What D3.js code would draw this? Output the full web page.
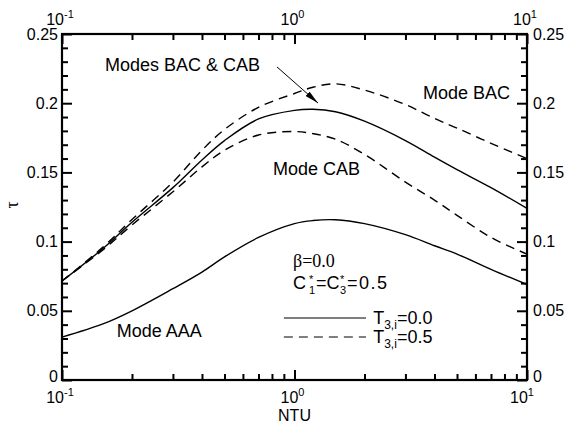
<!DOCTYPE html>
<html>
<head>
<meta charset="utf-8">
<script src="https://cdn.jsdelivr.net/npm/d3@7"></script>
<style>
  body { margin: 0; background: #fff; }
  text { font-family: "Liberation Sans", Arial, Helvetica, sans-serif; fill: #000; }
</style>
</head>
<body>
<svg id="chart" width="568" height="426"></svg>
<script>
// NTU sample points and tau values
var ntu       = [0.1, 0.15, 0.2, 0.3, 0.4, 0.5, 0.7, 1, 1.2, 1.5, 2, 3, 4, 5, 7, 10];
var bacCabT00 = [0.0715, 0.095, 0.114, 0.139, 0.159, 0.173, 0.1886, 0.1948, 0.1956, 0.1938, 0.187, 0.173, 0.161, 0.152, 0.139, 0.124];
var bacT05    = [0.0715, 0.096, 0.116, 0.143, 0.166, 0.181, 0.197, 0.207, 0.2115, 0.214, 0.2095, 0.199, 0.189, 0.182, 0.171, 0.160];
var cabT05    = [0.0715, 0.094, 0.112, 0.136, 0.154, 0.166, 0.177, 0.1795, 0.178, 0.174, 0.163, 0.143, 0.130, 0.119, 0.103, 0.091];
var aaaT00    = [0.031, 0.0405, 0.050, 0.066, 0.078, 0.089, 0.103, 0.113, 0.1152, 0.1158, 0.113, 0.105, 0.097, 0.091, 0.080, 0.069];

var xMajor = [0.1, 1, 10];
var xMinor = [0.2, 0.3, 0.4, 0.5, 0.6, 0.7, 0.8, 0.9, 2, 3, 4, 5, 6, 7, 8, 9];
var xExp   = ["-1", "0", "1"];
var yMajor = [0, 0.05, 0.1, 0.15, 0.2, 0.25];
var yMinor = d3.range(1, 25).map(function(i) { return i / 100; }).filter(function(v) { return Math.round(v * 100) % 5 !== 0; });
var yLabels = ["0", "0.05", "0.1", "0.15", "0.2", "0.25"];

var margin = {top: 34, right: 41, bottom: 46, left: 62},
    width = 568 - margin.left - margin.right,
    height = 426 - margin.top - margin.bottom;

var svg = d3.select("#chart")
  .append("g")
  .attr("transform", "translate(" + margin.left + "," + margin.top + ")");

var x = d3.scaleLog().domain([0.1, 10]).range([0, width]);
var y = d3.scaleLinear().domain([0, 0.25]).range([height, 0]);

// ticks (all pointing inward)
function ticks(axis, vals, size) {
  return axis.tickValues(vals).tickSize(-size).tickFormat("");
}
var axes = [
  [d3.axisBottom(x), xMinor, 6, "translate(0," + height + ")"],
  [d3.axisBottom(x), xMajor, 10, "translate(0," + height + ")"],
  [d3.axisTop(x), xMinor, 6, null],
  [d3.axisTop(x), xMajor, 10, null],
  [d3.axisLeft(y), yMinor, 6, null],
  [d3.axisLeft(y), yMajor, 10, null],
  [d3.axisRight(y), yMinor, 6, "translate(" + width + ",0)"],
  [d3.axisRight(y), yMajor, 10, "translate(" + width + ",0)"]
];
axes.forEach(function(a) {
  var g = svg.append("g").call(ticks(a[0], a[1], a[2]));
  if (a[3]) g.attr("transform", a[3]);
  g.select(".domain").remove();
  g.selectAll(".tick line").attr("stroke", "#000").attr("stroke-width", 2);
});

svg.append("rect")
  .attr("width", width).attr("height", height)
  .attr("fill", "none").attr("stroke", "#000").attr("stroke-width", 2.2);

// y tick labels, both sides (the zero labels nudged up off the 10^n labels)
svg.selectAll(".ylabL").data(yMajor).enter().append("text")
  .attr("x", -4).attr("y", function(d) { return y(d) - (d === 0 ? 4 : 0); })
  .attr("dy", "0.35em").attr("text-anchor", "end")
  .style("font-size", "16px")
  .text(function(d, i) { return yLabels[i]; });
svg.selectAll(".ylabR").data(yMajor).enter().append("text")
  .attr("x", width + 6).attr("y", function(d) { return y(d) - (d === 0 ? 4 : 0); })
  .attr("dy", "0.35em").attr("text-anchor", "start")
  .style("font-size", "16px")
  .text(function(d, i) { return yLabels[i]; });

// x tick labels 10^n, top and bottom
[[-9, 0], [height + 23, 3]].forEach(function(pos) {
  var t = svg.selectAll(null).data(xMajor).enter().append("text")
    .attr("x", function(d) { return x(d) - 2 - (d === 10 ? pos[1] : 0); })
    .attr("y", pos[0])
    .attr("text-anchor", "middle")
    .style("font-size", "16px");
  t.append("tspan").text("10");
  t.append("tspan").attr("dy", "-7").style("font-size", "11px")
    .text(function(d, i) { return xExp[i]; });
});

svg.append("text")
  .attr("x", width / 2).attr("y", height + 41)
  .attr("text-anchor", "middle").style("font-size", "16px")
  .text("NTU");

svg.append("text")
  .attr("transform", "translate(-50," + (height / 2 - 2) + ") rotate(-90)")
  .attr("text-anchor", "middle").attr("dy", "0.35em")
  .style("font-size", "18px").style("font-family", "'Liberation Serif', serif")
  .text("τ");

// curves
var line = d3.line()
  .x(function(d) { return x(d[0]); })
  .y(function(d) { return y(d[1]); })
  .curve(d3.curveCatmullRom.alpha(0.5));

var series = [
  {vals: bacCabT00, dash: null},
  {vals: aaaT00, dash: null},
  {vals: bacT05, dash: "9,6"},
  {vals: cabT05, dash: "9,6"}
];
svg.selectAll(".curve").data(series).enter().append("path")
  .attr("class", "curve")
  .attr("d", function(s) { return line(ntu.map(function(n, i) { return [n, s.vals[i]]; })); })
  .attr("fill", "none").attr("stroke", "#000").attr("stroke-width", 1.4)
  .attr("stroke-dasharray", function(s) { return s.dash; });

// annotations
function note(txt, nx, ty, size) {
  return svg.append("text")
    .attr("x", x(nx)).attr("y", y(ty))
    .style("font-size", (size || 18) + "px")
    .text(txt);
}
note("Modes BAC & CAB", 0.153, 0.2235);
note("Mode BAC", 3.57, 0.203);
note("Mode CAB", 0.808, 0.1480);
note("Mode AAA", 0.172, 0.0311);

svg.append("defs").append("marker")
  .attr("id", "arr").attr("viewBox", "0 0 14 6")
  .attr("refX", 14).attr("refY", 3)
  .attr("markerWidth", 14).attr("markerHeight", 6)
  .attr("markerUnits", "userSpaceOnUse")
  .attr("orient", "auto")
  .append("path").attr("d", "M0,0 L14,3 L0,6 Z").attr("fill", "#000");

svg.append("line")
  .attr("x1", x(0.841)).attr("y1", y(0.2262))
  .attr("x2", x(1.262)).attr("y2", y(0.2001))
  .attr("stroke", "#000").attr("stroke-width", 1)
  .attr("marker-end", "url(#arr)");

// parameter text
svg.append("text")
  .attr("x", x(0.985)).attr("y", y(0.0817))
  .style("font-size", "18px").style("font-family", "'Liberation Serif', serif")
  .text("β=0.0");

var cx = x(0.985), cy = y(0.0658);
var c = svg.append("g").attr("transform", "translate(" + cx + "," + cy + ")");
c.append("text").attr("x", 0).attr("y", 0).style("font-size", "18px").text("C");
c.append("text").attr("x", 16).attr("y", -6).style("font-size", "11px").text("*");
c.append("text").attr("x", 16).attr("y", 5).style("font-size", "11px").text("1");
c.append("text").attr("x", 23).attr("y", 0).style("font-size", "18px").text("=C");
c.append("text").attr("x", 47).attr("y", -6).style("font-size", "11px").text("*");
c.append("text").attr("x", 47).attr("y", 5).style("font-size", "11px").text("3");
c.append("text").attr("x", 54).attr("y", 0).style("font-size", "18px").style("letter-spacing", "1.5px").text("=0.5");

// legend
var legT = ["0.0", "0.5"];
var legDash = [null, "9,6"];
var legY = [0.0448, 0.0311];
legT.forEach(function(t, i) {
  svg.append("line")
    .attr("x1", x(0.90)).attr("x2", x(2.03))
    .attr("y1", y(legY[i])).attr("y2", y(legY[i]))
    .attr("stroke", "#000").attr("stroke-width", 1.1)
    .attr("stroke-dasharray", legDash[i]);
  var lt = svg.append("text")
    .attr("x", x(2.18)).attr("y", y(legY[i]) + 6)
    .style("font-size", "18px");
  lt.append("tspan").text("T");
  lt.append("tspan").attr("dy", 5).style("font-size", "12px").text("3,i");
  lt.append("tspan").attr("dy", -5).text("=" + t);
});
</script>
</body>
</html>
